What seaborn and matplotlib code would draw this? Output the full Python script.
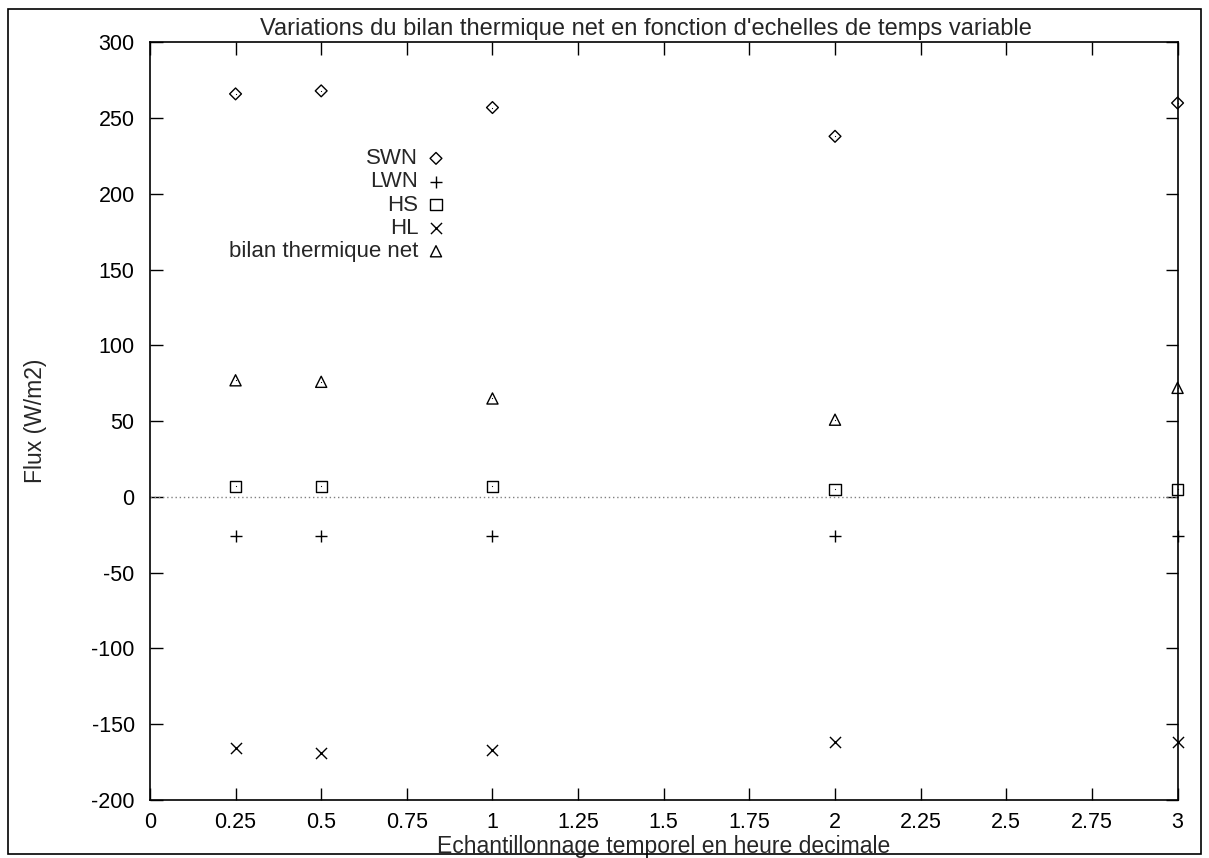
import numpy as np
import pandas as pd
import matplotlib
matplotlib.use('Agg')
import matplotlib.pyplot as plt
import seaborn as sns
from matplotlib.patches import Rectangle

# time steps (hours) and fluxes (W/m2)
pas_temps = [0.25, 0.5, 1, 2, 3]
swn = [266, 268, 257, 238, 260]
lwn = [-26, -26, -26, -26, -26]
hs = [7, 7, 7, 5, 5]
hl = [-166, -169, -167, -162, -162]
bilan = [77, 76, 65, 51, 72]

xticks = [0, 0.25, 0.5, 0.75, 1, 1.25, 1.5, 1.75, 2, 2.25, 2.5, 2.75, 3]
xticklabels = ['0', '0.25', '0.5', '0.75', '1', '1.25', '1.5', '1.75', '2', '2.25', '2.5', '2.75', '3']
yticks = list(range(-200, 301, 50))

sns.set_style("ticks")
plt.rcParams['font.family'] = ['Liberation Sans', 'DejaVu Sans']
plt.rcParams['axes.unicode_minus'] = False

fig = plt.figure(figsize=(12.09, 8.58), dpi=100)
ax = fig.add_axes([0.124, 0.0676, 0.850, 0.883])

# frame around the whole page
fig.patches.append(Rectangle((0.007, 0.005), 0.986, 0.985, transform=fig.transFigure,
                             fill=False, edgecolor='black', linewidth=1.2))

# zero line
ax.axhline(0, color='gray', linestyle=(0, (1, 2)), linewidth=1)

series = [
    ('SWN', swn, 'D', 6),
    ('LWN', lwn, '+', 9),
    ('HS', hs, 's', 8),
    ('HL', hl, 'x', 8),
    ('bilan thermique net', bilan, '^', 8),
]

for name, vals, mk, ms in series:
    df = pd.DataFrame({'t': pas_temps, 'flux': vals})
    if mk in ('+', 'x'):
        sns.scatterplot(data=df, x='t', y='flux', marker=mk, s=ms**2, color='black',
                        linewidth=1.0, ax=ax, label=name, clip_on=False, zorder=3)
    else:
        sns.scatterplot(data=df, x='t', y='flux', marker=mk, s=ms**2, facecolor='none',
                        edgecolor='black', linewidth=1.0, ax=ax, label=name,
                        clip_on=False, zorder=3)
        # small dot in the center, like gnuplot
        sns.scatterplot(data=df, x='t', y='flux', marker='.', s=3, color='black',
                        linewidth=0, ax=ax, clip_on=False, zorder=4)

ax.set_xlim(0, 3)
ax.set_ylim(-200, 300)
ax.set_xticks(xticks)
ax.set_xticklabels(xticklabels)
ax.set_yticks(yticks)
ax.tick_params(direction='in', length=9, width=1, top=True, right=True,
               labelsize=15.5, colors='black')
ax.tick_params(axis='y', pad=11)
ax.tick_params(axis='x', pad=9)
for sp in ax.spines.values():
    sp.set_visible(True)
    sp.set_linewidth(1.2)
    sp.set_color('black')

ax.set_title("Variations du bilan thermique net en fonction d'echelles de temps variable",
             fontsize=17, pad=5, x=0.483)
ax.set_xlabel('Echantillonnage temporel en heure decimale', fontsize=16.5, labelpad=1)
ax.set_ylabel('Flux (W/m2)', fontsize=16.5, labelpad=32)

ax.legend(loc='upper right', bbox_to_anchor=(0.3, 0.875), frameon=False,
          markerfirst=False, fontsize=16, handlelength=1.0, handletextpad=0.3,
          labelspacing=0.1, borderpad=0)

fig.savefig('out.png', dpi=100)
